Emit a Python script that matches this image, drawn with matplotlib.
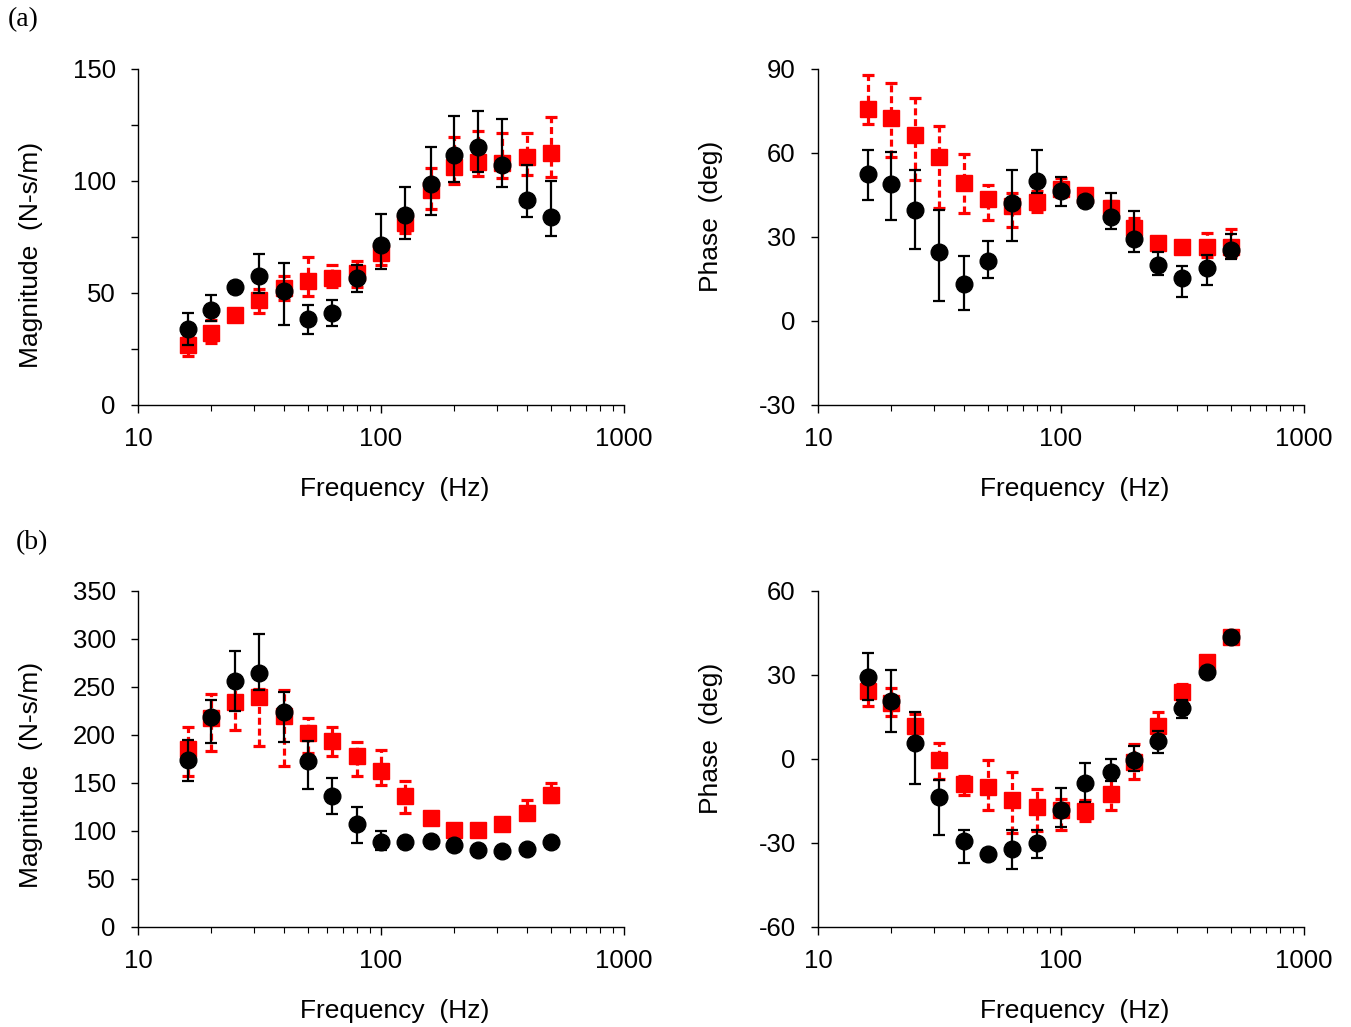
# frequency response: magnitude and phase, two conditions, panels (a) and (b)
import matplotlib
matplotlib.use('Agg')
import matplotlib.pyplot as plt
import numpy as np
from matplotlib.ticker import FixedLocator, FixedFormatter, MultipleLocator, NullFormatter

plt.rcParams['font.family'] = ['Liberation Sans', 'DejaVu Sans']
plt.rcParams['axes.unicode_minus'] = False

# 1/3 octave centre frequencies
freq = np.array([16, 20, 25, 31.5, 40, 50, 63, 80, 100, 125, 160, 200, 250, 315, 400, 500])

# (a) magnitude, black circles: mean, lower, upper
a_mag_k = [33.9, 42.5, 52.6, 57.4, 50.7, 38.4, 41.0, 56.6, 71.5, 84.6, 98.7, 111.6, 115.4, 107.0, 91.6, 83.8]
a_mag_k_lo = [27.0, 37.3, 51.0, 50.0, 35.8, 31.7, 35.1, 50.4, 60.6, 74.0, 84.7, 99.7, 103.8, 97.4, 83.8, 75.5]
a_mag_k_hi = [41.0, 49.2, 54.0, 67.5, 63.6, 44.7, 46.7, 62.6, 85.2, 97.4, 115.2, 128.9, 131.3, 127.7, 107.0, 100.2]
# (a) magnitude, red squares
a_mag_r = [26.6, 32.1, 40.1, 47.0, 52.2, 55.2, 56.6, 58.9, 67.8, 81.2, 96.0, 106.1, 108.7, 108.2, 110.7, 112.4]
a_mag_r_lo = [22.0, 27.9, 38.5, 41.0, 46.7, 48.5, 52.5, 52.9, 62.3, 76.7, 87.4, 98.7, 102.3, 101.5, 102.7, 102.0]
a_mag_r_hi = [31.0, 38.1, 41.8, 52.0, 57.4, 66.0, 62.3, 64.4, 72.5, 87.1, 105.6, 119.7, 122.3, 121.3, 121.4, 128.7]

# (a) phase
a_ph_k = [52.4, 48.8, 39.7, 24.5, 13.3, 21.3, 42.3, 50.0, 46.5, 43.0, 37.1, 29.2, 20.1, 15.3, 18.9, 25.2]
a_ph_k_lo = [43.3, 35.9, 25.7, 7.2, 3.8, 15.5, 28.6, 45.6, 41.2, 41.5, 32.8, 24.7, 16.5, 8.4, 12.9, 22.1]
a_ph_k_hi = [60.9, 60.3, 54.0, 39.7, 23.3, 28.5, 54.0, 61.1, 51.3, 44.5, 45.6, 39.3, 24.5, 19.5, 23.6, 31.0]
a_ph_r = [75.7, 72.4, 66.5, 58.4, 49.4, 43.5, 40.9, 42.4, 47.1, 45.0, 40.3, 33.2, 28.0, 26.6, 26.4, 26.6]
a_ph_r_lo = [70.4, 58.4, 50.4, 40.3, 38.7, 35.9, 33.7, 39.1, 44.4, 43.5, 37.3, 30.8, 26.5, 25.0, 23.0, 23.0]
a_ph_r_hi = [87.9, 84.9, 79.8, 69.8, 59.6, 48.6, 45.6, 46.5, 51.0, 46.5, 43.0, 36.7, 29.5, 28.0, 31.6, 32.8]

# (b) magnitude
b_mag_k = [174.1, 219.1, 256.1, 265.1, 223.6, 172.4, 136.0, 107.6, 88.6, 88.6, 89.3, 85.8, 80.0, 79.3, 81.7, 88.6]
b_mag_k_lo = [152.6, 191.8, 225.0, 246.8, 192.5, 143.3, 117.3, 87.9, 80.0, 84.5, 85.5, 82.0, 76.0, 75.5, 78.0, 84.5]
b_mag_k_hi = [195.0, 236.8, 287.6, 305.0, 245.1, 193.5, 155.4, 125.0, 100.4, 92.5, 93.0, 89.5, 84.0, 83.0, 85.5, 92.5]
b_mag_r = [185.5, 217.7, 234.0, 239.2, 219.5, 202.1, 193.5, 177.9, 162.0, 136.0, 113.9, 100.7, 100.7, 107.0, 119.1, 137.8]
b_mag_r_lo = [156.8, 183.8, 205.3, 188.3, 167.5, 181.4, 177.9, 156.8, 147.5, 118.7, 110.0, 97.0, 97.0, 103.0, 113.9, 130.1]
b_mag_r_hi = [208.7, 242.6, 253.0, 248.0, 247.1, 217.4, 208.0, 192.5, 184.8, 152.6, 118.0, 104.0, 104.0, 111.0, 131.9, 149.9]

# (b) phase
b_ph_k = [29.4, 20.8, 5.8, -13.6, -29.4, -34.1, -32.3, -30.0, -18.1, -8.5, -4.5, -0.5, 6.6, 18.1, 31.2, 43.6]
b_ph_k_lo = [21.0, 9.6, -9.1, -27.2, -37.1, -36.0, -39.3, -35.5, -24.3, -15.4, -7.7, -4.3, 2.1, 14.7, 29.5, 42.0]
b_ph_k_hi = [38.0, 31.8, 16.9, -7.4, -25.5, -32.0, -25.5, -25.5, -10.3, -1.4, 0.1, 4.6, 10.0, 21.0, 33.0, 45.0]
b_ph_r = [24.4, 20.0, 11.7, -0.5, -8.8, -10.0, -14.8, -17.2, -18.1, -18.7, -12.4, -0.9, 11.7, 23.8, 34.7, 43.6]
b_ph_r_lo = [19.1, 15.3, 4.2, -7.1, -13.0, -18.3, -26.6, -25.8, -25.2, -22.0, -18.3, -7.1, 6.6, 21.0, 33.0, 42.0]
b_ph_r_hi = [29.0, 25.2, 16.1, 5.6, -6.1, -0.5, -4.7, -10.6, -14.2, -14.8, -6.5, 5.2, 16.7, 26.8, 36.5, 45.5]

fig = plt.figure(figsize=(13.51, 10.27), dpi=100)

W = 486 / 1351
H = 336 / 1027
positions = [(138 / 1351, 622 / 1027), (818 / 1351, 622 / 1027),
             (138 / 1351, 100 / 1027), (818 / 1351, 100 / 1027)]


def panel(pos, k, klo, khi, r, rlo, rhi, ylim, ymajor, yminor, ylabel, ylab_y):
    ax = fig.add_axes([pos[0], pos[1], W, H])
    k = np.array(k); r = np.array(r)
    # red squares with dashed error bars first
    eb = ax.errorbar(freq, r, yerr=[r - np.array(rlo), np.array(rhi) - r], fmt='s',
                     color='red', ms=11, ecolor='red', elinewidth=2.3, capsize=4.5,
                     capthick=2.3, zorder=2)
    eb[2][0].set_linestyle((0, (2.2, 1.2)))
    # black circles with solid error bars
    ax.errorbar(freq, k, yerr=[k - np.array(klo), np.array(khi) - k], fmt='o',
                color='black', ms=12, ecolor='black', elinewidth=1.6, capsize=4.5,
                capthick=1.6, zorder=3)
    ax.set_xscale('log')
    ax.set_xlim(10, 1000)
    ax.set_ylim(*ylim)
    ax.xaxis.set_major_locator(FixedLocator([10, 100, 1000]))
    ax.xaxis.set_major_formatter(FixedFormatter(['10', '100', '1000']))
    ax.xaxis.set_minor_locator(FixedLocator([20, 30, 40, 50, 60, 70, 80, 90,
                                             200, 300, 400, 500, 600, 700, 800, 900]))
    ax.xaxis.set_minor_formatter(NullFormatter())
    ax.yaxis.set_major_locator(MultipleLocator(ymajor))
    if yminor:
        ax.yaxis.set_minor_locator(MultipleLocator(yminor))
    for s in ['top', 'right']:
        ax.spines[s].set_visible(False)
    for s in ['left', 'bottom']:
        ax.spines[s].set_linewidth(1.0)
    ax.tick_params(axis='y', which='both', direction='out', length=5, width=1.0,
                   labelsize=18.5, pad=11)
    ax.tick_params(axis='x', which='major', direction='out', length=6, width=1.0,
                   labelsize=18.5, pad=10)
    ax.tick_params(axis='x', which='minor', direction='out', length=4, width=0.8)
    ax.set_xlabel('Frequency  (Hz)', fontsize=19, va='top')
    ax.xaxis.set_label_coords(0.529, -0.213)
    ax.set_ylabel(ylabel, fontsize=19)
    ax.yaxis.set_label_coords(-0.195, ylab_y)
    return ax


panel(positions[0], a_mag_k, a_mag_k_lo, a_mag_k_hi, a_mag_r, a_mag_r_lo, a_mag_r_hi,
      (0, 150), 50, 25, 'Magnitude  (N-s/m)', 0.446)
panel(positions[1], a_ph_k, a_ph_k_lo, a_ph_k_hi, a_ph_r, a_ph_r_lo, a_ph_r_hi,
      (-30, 90), 30, None, 'Phase  (deg)', 0.5625)
panel(positions[2], b_mag_k, b_mag_k_lo, b_mag_k_hi, b_mag_r, b_mag_r_lo, b_mag_r_hi,
      (0, 350), 50, None, 'Magnitude  (N-s/m)', 0.454)
panel(positions[3], b_ph_k, b_ph_k_lo, b_ph_k_hi, b_ph_r, b_ph_r_lo, b_ph_r_hi,
      (-60, 60), 30, None, 'Phase  (deg)', 0.5625)

fig.text(8 / 1351, 1 - 20 / 1027, '(a)', fontsize=20, family='Liberation Serif',
         ha='left', va='center')
fig.text(16 / 1351, 1 - 543 / 1027, '(b)', fontsize=20, family='Liberation Serif',
         ha='left', va='center')

fig.savefig('out.png', dpi=100)
